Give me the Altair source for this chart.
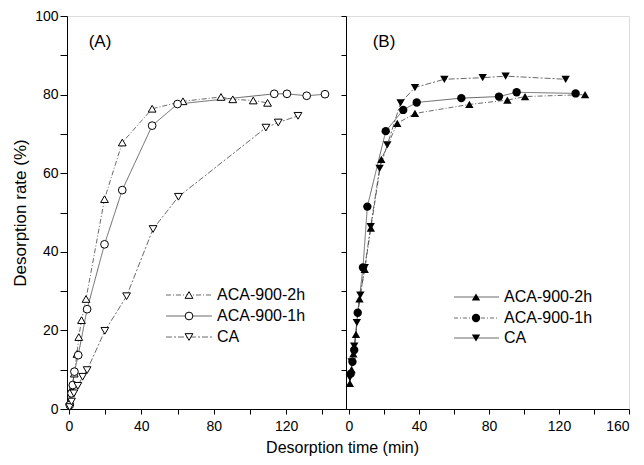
import altair as alt
import pandas as pd

series = ["ACA-900-2h", "ACA-900-1h", "CA"]

# Panel (A)
a_2h_t = [0.5, 1.5, 3, 4.5, 5.5, 7, 9.5, 19.7, 29.5, 46, 63, 84, 90.5, 101.8, 109.7]
a_2h_y = [2, 5, 9, 14, 18.3, 22.6, 28, 53.4, 67.8, 76.4, 78.3, 79.4, 78.8, 78.5, 77.9]
a_1h_t = [0.5, 1.5, 2.2, 3.1, 5.2, 10.1, 19.7, 29.5, 46, 60, 113.4, 120.4, 131.3, 141.4]
a_1h_y = [1, 4, 6.1, 9.5, 13.7, 25.4, 41.9, 55.7, 72.1, 77.6, 80.2, 80.2, 79.7, 80.1]
a_ca_t = [0.5, 1.5, 2.8, 5, 7.6, 10.1, 19.9, 31.9, 46.5, 60.5, 108.8, 115.6, 126.5]
a_ca_y = [0.5, 1.9, 4, 5.9, 8.2, 9.9, 19.9, 28.7, 45.8, 54, 71.6, 72.9, 74.6]

# Panel (B)
b_2h_t = [0.5, 1.5, 2.5, 4, 6, 9, 12.5, 18.5, 27.6, 37.7, 68.8, 90.5, 100.6, 134.9]
b_2h_y = [6.5, 10, 14, 19, 28, 35.5, 46, 63.5, 72.7, 75.2, 77.5, 78.6, 79.5, 80]
b_1h_t = [1, 2, 3, 5, 8, 10.5, 21, 31, 38.7, 64.2, 85.7, 95.8, 129.5]
b_1h_y = [9, 12, 15, 24.5, 36, 51.5, 70.7, 76.1, 78, 79.1, 79.5, 80.6, 80.3]
b_ca_t = [0.5, 1.5, 3, 4.5, 6.5, 9, 12.4, 17.5, 21.9, 29.5, 37.7, 54.5, 76.4, 89.5, 123.8]
b_ca_y = [8, 12, 16, 22, 29, 36, 46.4, 61.2, 67.2, 77.9, 81.8, 83.9, 84.3, 84.7, 83.9]

y_ticks = [0, 10, 20, 30, 40, 50, 60, 70, 80, 90, 100]
xa_ticks = [0, 20, 40, 60, 80, 100, 120, 140]
xb_ticks = [0, 20, 40, 60, 80, 100, 120, 140, 160]

FONT = "Liberation Sans"
shapes = ["triangle-up", "circle", "triangle-down"]


def frame(ts, ys):
    rows = []
    for name, t, y in zip(series, ts, ys):
        for tv, yv in zip(t, y):
            rows.append({"series": name, "t": tv, "y": yv})
    return pd.DataFrame(rows)


dfa = frame([a_2h_t, a_1h_t, a_ca_t], [a_2h_y, a_1h_y, a_ca_y])
dfb = frame([b_2h_t, b_1h_t, b_ca_t], [b_2h_y, b_1h_y, b_ca_y])

W_A, W_B, H = 279, 283, 393

dash_a = [[5, 2, 1, 2], [1, 0], [6, 2, 2, 2]]
dash_b = [[1, 0], [4, 2, 1, 2], [1, 0]]


def panel(df, domain, ticks, dashes, filled, tag, width, left_axis, legend_pos, tag_pos):
    x = alt.X("t:Q", scale=alt.Scale(domain=domain, nice=False, zero=False),
              axis=alt.Axis(values=ticks, title=None, grid=False,
                            labelExpr="datum.value % 40 == 0 ? datum.label : ''",
                            tickSize=5, labelPadding=5, labelFontSize=14,
                            domainColor="black", tickColor="black", labelColor="black"))
    if left_axis:
        yax = alt.Axis(values=y_ticks, title="Desorption rate (%)", grid=False,
                       labelExpr="datum.value % 20 == 0 ? datum.label : ''",
                       tickSize=7, labelPadding=2, labelFontSize=14,
                       titleFontSize=17, titleFontWeight="normal", titlePadding=5,
                       domainColor="black", tickColor="black", labelColor="black",
                       titleColor="black")
    else:
        yax = alt.Axis(values=y_ticks, title=None, grid=False, labels=False,
                       tickSize=5, domainColor="black", tickColor="black")
    y = alt.Y("y:Q", scale=alt.Scale(domain=[0, 100], nice=False), axis=yax)

    lines = alt.Chart(df).mark_line(strokeWidth=0.8, color="#444").encode(
        x=x, y=y,
        strokeDash=alt.StrokeDash("series:N", scale=alt.Scale(domain=series, range=dashes), legend=None),
        detail="series:N",
    )
    pts = alt.Chart(df).mark_point(filled=filled, size=70 if filled else 60,
                                   strokeWidth=1, color="black",
                                   fill="black" if filled else "white", opacity=1).encode(
        x=x, y=y,
        shape=alt.Shape("series:N", scale=alt.Scale(domain=series, range=shapes), legend=None),
    )
    layers = [lines, pts]

    lx0, lx1, lmk, ltx, lys = legend_pos
    for i, name in enumerate(series):
        one = pd.DataFrame({"series": [name]})
        layers.append(alt.Chart(one).mark_rule(strokeWidth=0.8, color="#444",
                                                strokeDash=dashes[i]).encode(
            x=alt.value(lx0), x2=alt.value(lx1), y=alt.value(lys[i])))
        layers.append(alt.Chart(one).mark_point(shape=shapes[i], filled=filled,
                                                 size=70 if filled else 60, strokeWidth=1,
                                                 color="black", fill="black" if filled else "white",
                                                 opacity=1).encode(
            x=alt.value(lmk), y=alt.value(lys[i])))
        layers.append(alt.Chart(one).mark_text(align="left", baseline="middle", font=FONT,
                                                fontSize=16, color="black").encode(
            x=alt.value(ltx), y=alt.value(lys[i]), text="series:N"))
    tagdf = pd.DataFrame({"tag": [tag]})
    layers.append(alt.Chart(tagdf).mark_text(align="center", baseline="middle", font=FONT,
                                              fontSize=17, color="black").encode(
        x=alt.value(tag_pos[0]), y=alt.value(tag_pos[1]), text="tag:N"))
    return alt.layer(*layers).properties(width=width, height=H)


pa = panel(dfa, [-1, 153], xa_ticks, dash_a, False, "(A)", W_A, True,
           (99, 145, 122, 150, [279, 300, 321]), (33, 26))
pb = panel(dfb, [-1.7, 160], xb_ticks, dash_b, True, "(B)", W_B, False,
           (108, 153, 130, 158, [281, 302, 322]), (38, 26))

chart = alt.hconcat(pa, pb, spacing=0, bounds="flush").properties(
    title=alt.TitleParams("Desorption time (min)", orient="bottom", anchor="middle",
                          fontSize=16, fontWeight="normal", font=FONT, color="black",
                          offset=6, dx=22),
    padding={"left": 3, "top": 0, "right": 0, "bottom": 0},
).configure_view(stroke="black", strokeWidth=1.2).configure(
    font=FONT, background="white"
).configure_axis(labelFont=FONT, titleFont=FONT)

chart.save("out.html", embed_options={"renderer": "svg", "actions": False})
